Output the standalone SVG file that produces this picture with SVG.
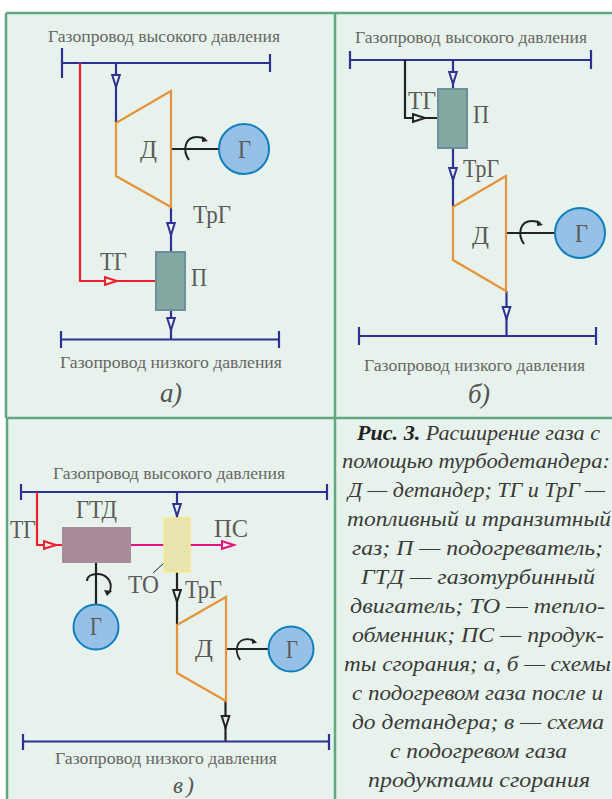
<svg xmlns="http://www.w3.org/2000/svg" width="612" height="799" viewBox="0 0 612 799">
<style>
.bg{fill:#e8f2ec}
.fr{fill:none;stroke:#5fa882;stroke-width:2.5}
.t{font-family:"Liberation Serif",serif;fill:#5a5a58}
.s{font-size:17px;fill:#666664}
.l{font-size:26px}
.i{font-family:"Liberation Serif",serif;font-style:italic;fill:#555553}
.c{font-size:22px;fill:#3a3a38;text-anchor:start}
.b{fill:none;stroke:#2e3192;stroke-width:2.2}
.r{fill:none;stroke:#f0202e;stroke-width:2.2}
.p{fill:none;stroke:#e6127f;stroke-width:2.2}
.k{fill:none;stroke:#222;stroke-width:2.2}
.ab{fill:#e8f2ec;stroke:#2e3192;stroke-width:2}
.ar{fill:#e8f2ec;stroke:#f0202e;stroke-width:2}
.ap{fill:#e8f2ec;stroke:#e6127f;stroke-width:2}
.ak{fill:#e8f2ec;stroke:#222;stroke-width:2}
.trap{fill:none;stroke:#e6943c;stroke-width:2.200}
.gen{fill:#96c0e6;stroke:#0f7fbd;stroke-width:2}
.heat{fill:#82a89f;stroke:#6f8f9c;stroke-width:2}
.rot{fill:none;stroke:#222;stroke-width:2}
</style>
<defs>
<polygon id="ah" points="-3.8,0 3.8,0 0,12"/>
<g id="rt"><path class="rot" d="M18,11 C11,1 14,-12 26,-12 C29,-12 32,-11 34,-10"/><path d="M37,-8 L31,-13 L31,-7 Z" fill="#222"/></g>
</defs>
<rect x="6" y="13" width="606" height="786" class="bg"/>
<g id="frames">
<path class="fr" d="M6,13 H612 M6,13 V418 M335,13 V418 M6,418 H612 M7,418 V799 M335,418 V799"/>
</g>

<g id="connectors">
<path class="b" d="M62,48 V78 M270,54 V72 M62,63 H270"/>
<path class="r" d="M80,63 V281 H156"/>
<path class="b" d="M116,63 V123"/>
<use href="#ah" class="ab" transform="translate(116,75)"/>
<use href="#ah" class="ar" transform="translate(105,281) rotate(-90)"/>
<path class="k" d="M171,149 H220"/>
<path class="b" d="M171,207 V252"/>
<use href="#ah" class="ab" transform="translate(171,223)"/>
<path class="b" d="M171,310 V339.5"/>
<use href="#ah" class="ab" transform="translate(171,318)"/>
<path class="b" d="M61,331 V348 M279,331 V348 M61,339.5 H279"/>
<use href="#rt" transform="translate(171,149)"/>
<path class="b" d="M350,51 V69 M591,50 V69 M350,60 H591"/>
<path class="k" d="M405,60 V118 H438"/>
<use href="#ah" class="ak" transform="translate(413,118) rotate(-90)"/>
<path class="b" d="M453,60 V89"/>
<use href="#ah" class="ab" transform="translate(453,72)"/>
<path class="b" d="M453,148 V207"/>
<use href="#ah" class="ab" transform="translate(453,168)"/>
<path class="k" d="M506,233 H555"/>
<use href="#rt" transform="translate(506,233)"/>
<path class="b" d="M506.5,291 V336"/>
<use href="#ah" class="ab" transform="translate(506.5,307)"/>
<path class="b" d="M359,327 V345 M596,327 V345 M359,336 H596"/>
<path class="b" d="M21,484 V500 M327,484 V500 M21,492 H327"/>
<path class="r" d="M37,492 V545 H62"/>
<use href="#ah" class="ar" transform="translate(44,545) rotate(-90)"/>
<path class="p" d="M131,545 H222"/>
<use href="#ah" class="ap" transform="translate(222,545) rotate(-90)"/>
<path class="b" d="M177,492 V518"/>
<use href="#ah" class="ab" transform="translate(177,504)"/>
<path class="k" d="M177,572 V625"/>
<use href="#ah" class="ak" transform="translate(177,590)"/>
<path d="M153,573 L164,563" fill="none" stroke="#222" stroke-width="1"/>
<path class="k" d="M96,563 V605"/>
<path class="rot" d="M87,581 C87,576 92,574 97,574 C106,574 113,581 110,591"/>
<path d="M107,596 L104,590 L112,591 Z" fill="#222"/>
<path class="k" d="M226,649 H268"/>
<use href="#rt" transform="translate(224,650) scale(.9)"/>
<path class="k" d="M225.5,701 V741"/>
<use href="#ah" class="ak" transform="translate(225.5,716)"/>
<path class="b" d="M23,734 V750 M329,734 V750 M23,741.5 H329"/>
</g>

<g id="labels-a">
<text class="t s" x="48" y="42" textLength="232" lengthAdjust="spacingAndGlyphs">Газопровод высокого давления</text>
<text class="t s" x="60" y="368" textLength="222" lengthAdjust="spacingAndGlyphs">Газопровод низкого давления</text>
<text class="t l" x="100" y="270" textLength="27" lengthAdjust="spacingAndGlyphs">ТГ</text>
<text class="t l" x="193" y="223" textLength="38" lengthAdjust="spacingAndGlyphs">ТрГ</text>
<text class="i" x="160" y="402" font-size="27" textLength="22" lengthAdjust="spacing">а)</text>
</g>
<g id="node-a-d"><path class="trap" d="M116,123 L171,91 V207 L116,176 Z"/><text class="t l" x="140" y="158" textLength="17" lengthAdjust="spacingAndGlyphs">Д</text></g>
<g id="node-a-g"><circle class="gen" cx="244" cy="149" r="25"/><text class="t l" x="238" y="158" textLength="13" lengthAdjust="spacingAndGlyphs">Г</text></g>
<g id="node-a-p"><rect class="heat" x="156" y="252" width="29" height="58"/><text class="t l" x="191" y="286" textLength="16" lengthAdjust="spacingAndGlyphs">П</text></g>

<g id="labels-b">
<text class="t s" x="355" y="43" textLength="232" lengthAdjust="spacingAndGlyphs">Газопровод высокого давления</text>
<text class="t s" x="364" y="371" textLength="221" lengthAdjust="spacingAndGlyphs">Газопровод низкого давления</text>
<text class="t l" x="408" y="109" textLength="28" lengthAdjust="spacingAndGlyphs">ТГ</text>
<text class="t l" x="463" y="177" textLength="36" lengthAdjust="spacingAndGlyphs">ТрГ</text>
<text class="i" x="468" y="403" font-size="27" textLength="22" lengthAdjust="spacing">б)</text>
</g>
<g id="node-b-p"><rect class="heat" x="438" y="89" width="29" height="59"/><text class="t l" x="473" y="123" textLength="16" lengthAdjust="spacingAndGlyphs">П</text></g>
<g id="node-b-d"><path class="trap" d="M453,207 L506,176 V291 L453,260 Z"/><text class="t l" x="472" y="244" textLength="17" lengthAdjust="spacingAndGlyphs">Д</text></g>
<g id="node-b-g"><circle class="gen" cx="580" cy="233" r="25"/><text class="t l" x="575" y="242" textLength="13" lengthAdjust="spacingAndGlyphs">Г</text></g>

<g id="labels-c">
<text class="t s" x="53" y="479" textLength="232" lengthAdjust="spacingAndGlyphs">Газопровод высокого давления</text>
<text class="t s" x="55" y="764" textLength="222" lengthAdjust="spacingAndGlyphs">Газопровод низкого давления</text>
<text class="t l" x="10" y="538" textLength="26" lengthAdjust="spacingAndGlyphs">ТГ</text>
<text class="t l" x="214" y="537" textLength="34" lengthAdjust="spacingAndGlyphs">ПС</text>
<text class="t l" x="128" y="593" textLength="31" lengthAdjust="spacingAndGlyphs">ТО</text>
<text class="t l" x="185" y="598" textLength="37" lengthAdjust="spacingAndGlyphs">ТрГ</text>
<text class="i" x="173" y="793" font-size="23" textLength="21" lengthAdjust="spacing">в)</text>
</g>
<g id="node-c-gtd"><rect x="62" y="527" width="69" height="36" fill="#a88c9c"/><text class="t l" x="76" y="518" textLength="41" lengthAdjust="spacingAndGlyphs">ГТД</text></g>
<g id="node-c-to"><rect x="164" y="518" width="26" height="54" fill="#e8e4b0" stroke="#f5e98c" stroke-width="1.500"/></g>
<g id="node-c-g1"><circle class="gen" cx="96" cy="627" r="22.500"/><text class="t l" x="90" y="635" textLength="12" lengthAdjust="spacingAndGlyphs">Г</text></g>
<g id="node-c-d"><path class="trap" d="M177,625 L226,597 V701 L177,673 Z"/><text class="t l" x="195" y="657" textLength="18" lengthAdjust="spacingAndGlyphs">Д</text></g>
<g id="node-c-g2"><circle class="gen" cx="291" cy="649" r="22.500"/><text class="t l" x="286" y="658" textLength="12" lengthAdjust="spacingAndGlyphs">Г</text></g>

<g id="caption">
<text class="i c" x="357" y="440" textLength="243" lengthAdjust="spacingAndGlyphs"><tspan font-weight="bold" fill="#222">Рис. 3.</tspan> Расширение газа с</text>
<text class="i c" x="342" y="468" textLength="268" lengthAdjust="spacingAndGlyphs">помощью турбодетандера:</text>
<text class="i c" x="348" y="497" textLength="257" lengthAdjust="spacingAndGlyphs">Д — детандер; ТГ и ТрГ —</text>
<text class="i c" x="347" y="526" textLength="264" lengthAdjust="spacingAndGlyphs">топливный и транзитный</text>
<text class="i c" x="352" y="555" textLength="251" lengthAdjust="spacingAndGlyphs">газ; П — подогреватель;</text>
<text class="i c" x="361" y="584" textLength="234" lengthAdjust="spacingAndGlyphs">ГТД — газотурбинный</text>
<text class="i c" x="350" y="613" textLength="255" lengthAdjust="spacingAndGlyphs">двигатель; ТО — тепло-</text>
<text class="i c" x="352" y="642" textLength="252" lengthAdjust="spacingAndGlyphs">обменник; ПС — продук-</text>
<text class="i c" x="344" y="671" textLength="267" lengthAdjust="spacingAndGlyphs">ты сгорания; а, б — схемы</text>
<text class="i c" x="352" y="700" textLength="251" lengthAdjust="spacingAndGlyphs">с подогревом газа после и</text>
<text class="i c" x="352" y="729" textLength="252" lengthAdjust="spacingAndGlyphs">до детандера; в — схема</text>
<text class="i c" x="390" y="758" textLength="177" lengthAdjust="spacingAndGlyphs">с подогревом газа</text>
<text class="i c" x="368" y="787" textLength="222" lengthAdjust="spacingAndGlyphs">продуктами сгорания</text>
</g>
</svg>
